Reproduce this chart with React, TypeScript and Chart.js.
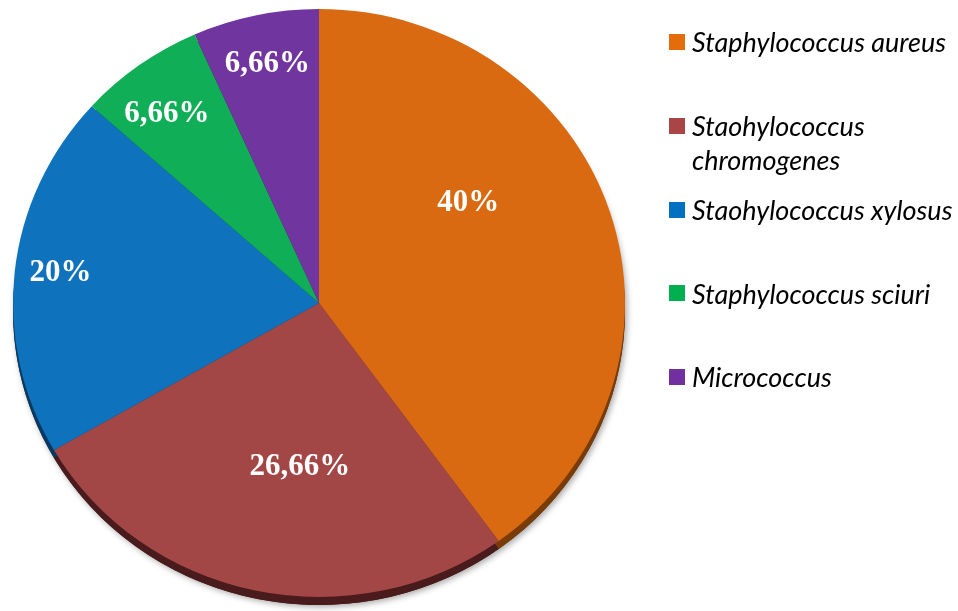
import React, { useEffect, useRef } from "react";
import { Chart, registerables } from "chart.js";

Chart.register(...registerables);

const categories = [
  "Staphylococcus aureus",
  "Staohylococcus chromogenes",
  "Staohylococcus xylosus",
  "Staphylococcus sciuri",
  "Micrococcus",
];
const values = [40, 26.66, 20, 6.66, 6.66];
const valueLabels = ["40%", "26,66%", "20%", "6,66%", "6,66%"];
const faceColors = ["#D96A12", "#A34746", "#0F72BD", "#10AE56", "#71359F"];
const legendColors = ["#E46C0A", "#A94645", "#0070C0", "#00B050", "#7030A0"];
const rimColors = ["#7A3C06", "#4A1B1C", "#073A63", "#075A2C", "#3A1A55"];

// label placement relative to each slice (angle offset in degrees, radius fraction)
const labelAngleOffset = [-17, -5.6, 0.9, -1.7, 0.3];
const labelRadiusFrac = [0.595, 0.56, 0.851, 0.814, 0.831];

const SY = 294 / 306;
const RIM = 8;

const tiltPlugin = {
  id: "tilt",
  beforeDatasetsDraw(chart: any) {
    const meta = chart.getDatasetMeta(0);
    const a0 = meta.data[0];
    if (!a0) return;
    const ctx = chart.ctx;
    const cx = a0.x;
    const cy = a0.y;
    ctx.save();
    ctx.translate(cx, cy);
    ctx.scale(1, SY);
    ctx.translate(-cx, -cy);
    const d = RIM / SY;
    ctx.save();
    ctx.shadowColor = "rgba(0,0,0,0.35)";
    ctx.shadowBlur = 6;
    ctx.shadowOffsetX = 2;
    ctx.shadowOffsetY = 2;
    ctx.beginPath();
    ctx.arc(cx, cy + d, a0.outerRadius, 0, Math.PI * 2);
    ctx.fillStyle = "#4A1B1C";
    ctx.fill();
    ctx.restore();
    meta.data.forEach((arc: any, i: number) => {
      ctx.beginPath();
      ctx.moveTo(arc.x, arc.y + d);
      ctx.arc(arc.x, arc.y + d, arc.outerRadius, arc.startAngle, arc.endAngle);
      ctx.closePath();
      ctx.fillStyle = rimColors[i];
      ctx.fill();
    });
  },
  afterDatasetsDraw(chart: any) {
    const meta = chart.getDatasetMeta(0);
    if (!meta.data[0]) return;
    const ctx = chart.ctx;
    ctx.restore();
    ctx.save();
    ctx.font = 'bold 31px "Liberation Serif", "Times New Roman", serif';
    ctx.fillStyle = "#FFFFFF";
    ctx.textAlign = "center";
    ctx.textBaseline = "middle";
    meta.data.forEach((arc: any, i: number) => {
      const mid = (arc.startAngle + arc.endAngle) / 2 + (labelAngleOffset[i] * Math.PI) / 180;
      const r = arc.outerRadius * labelRadiusFrac[i];
      const x = arc.x + Math.cos(mid) * r;
      const y = arc.y + Math.sin(mid) * r * SY;
      ctx.fillText(valueLabels[i], x, y);
    });
    ctx.restore();
  },
};

export default function App() {
  const ref = useRef<HTMLCanvasElement | null>(null);
  useEffect(() => {
    document.body.style.margin = "0";
    if (!ref.current) return;
    const chart = new Chart(ref.current, {
      type: "pie",
      data: {
        labels: categories,
        datasets: [
          {
            data: values,
            backgroundColor: faceColors,
            borderWidth: 0,
            radius: 306,
          } as any,
        ],
      },
      options: {
        animation: false,
        responsive: false,
        layout: { padding: { left: 13, right: 333, top: 0, bottom: 5 } },
        plugins: {
          legend: { display: false },
          tooltip: { enabled: false },
        },
      },
      plugins: [tiltPlugin],
    });
    return () => chart.destroy();
  }, []);

  const slot = 83.75;
  return (
    <div style={{ position: "relative", width: 958, height: 611, background: "#fff", overflow: "hidden" }}>
      <canvas ref={ref} width={958} height={611} style={{ position: "absolute", left: 0, top: 0 }} />
      {categories.map((c, i) => (
        <div
          key={c}
          style={{
            position: "absolute",
            left: 669,
            top: 42 + slot * i - 16.75,
            display: "flex",
            alignItems: "flex-start",
          }}
        >
          <div
            style={{
              width: 16,
              height: 16,
              marginTop: 8.75,
              background: legendColors[i],
              flex: "none",
            }}
          />
          <div
            style={{
              marginLeft: 7,
              width: 274,
              fontFamily: "Lato, 'Open Sans', sans-serif",
              fontStyle: "italic",
              fontSize: 27,
              lineHeight: "33.5px",
              color: "#000",
            }}
          >
            {c}
          </div>
        </div>
      ))}
    </div>
  );
}
